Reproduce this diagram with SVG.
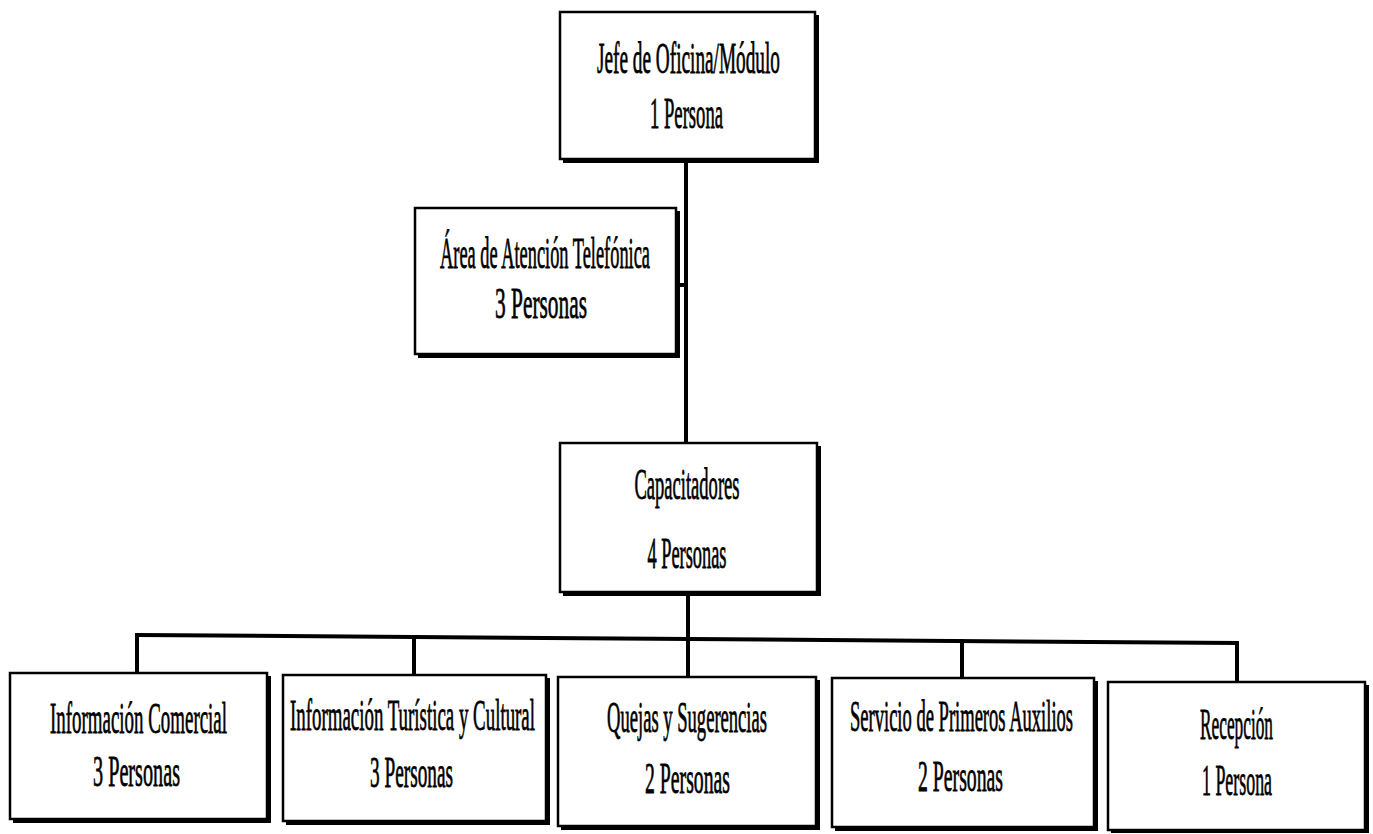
<svg xmlns="http://www.w3.org/2000/svg" width="1373" height="834" viewBox="0 0 1373 834">
<style>
.shadow{fill:#000;}
.box{fill:#fff;stroke:#000;stroke-width:2.5;}
.t{font-family:"Liberation Serif","Times New Roman",serif;font-size:44px;fill:#000;stroke:#000;stroke-width:0.8;text-anchor:middle;}
.c{fill:none;stroke:#000;stroke-width:4;stroke-linecap:square;}
</style>
<rect width="1373" height="834" fill="#fff"/>
<g id="connectors">
<path class="c" d="M686 160 V443"/>
<path class="c" d="M677 285 H686"/>
<path class="c" d="M688 593 V637"/>
<path class="c" d="M137 635 L1237 643"/>
<path class="c" d="M137 635 V673"/>
<path class="c" d="M414 637 V675"/>
<path class="c" d="M688 639 V677"/>
<path class="c" d="M962 641 V678"/>
<path class="c" d="M1237 643 V682"/>
</g>
<g id="jefe">
<rect class="shadow" x="563" y="15" width="256" height="148"/>
<rect class="box" x="560" y="12" width="255" height="147"/>
<text class="t" transform="translate(688.5 73) scale(0.42 1)" textLength="435.7" lengthAdjust="spacingAndGlyphs">Jefe de Oficina/Módulo</text>
<text class="t" transform="translate(686.5 128) scale(0.42 1)" textLength="173.8" lengthAdjust="spacingAndGlyphs">1 Persona</text>
</g>
<g id="telefonica">
<rect class="shadow" x="418" y="211" width="262" height="147"/>
<rect class="box" x="415" y="208" width="261" height="146"/>
<text class="t" transform="translate(545 268) scale(0.42 1)" textLength="500" lengthAdjust="spacingAndGlyphs">Área de Atención Telefónica</text>
<text class="t" transform="translate(541 318) scale(0.42 1)" textLength="219" lengthAdjust="spacingAndGlyphs">3 Personas</text>
</g>
<g id="capacitadores">
<rect class="shadow" x="563" y="446" width="258" height="150"/>
<rect class="box" x="560" y="443" width="257" height="149"/>
<text class="t" transform="translate(687 499) scale(0.42 1)" textLength="250" lengthAdjust="spacingAndGlyphs">Capacitadores</text>
<text class="t" transform="translate(687 568) scale(0.42 1)" textLength="188" lengthAdjust="spacingAndGlyphs">4 Personas</text>
</g>
<g id="comercial">
<rect class="shadow" x="13" y="676" width="258" height="147"/>
<rect class="box" x="10" y="673" width="257" height="146"/>
<text class="t" transform="translate(138.5 733) scale(0.42 1)" textLength="421.4" lengthAdjust="spacingAndGlyphs">Información Comercial</text>
<text class="t" transform="translate(136.5 786) scale(0.42 1)" textLength="207.1" lengthAdjust="spacingAndGlyphs">3 Personas</text>
</g>
<g id="turistica">
<rect class="shadow" x="286" y="678" width="264" height="147"/>
<rect class="box" x="283" y="675" width="263" height="146"/>
<text class="t" transform="translate(412.5 730) scale(0.42 1)" textLength="583.3" lengthAdjust="spacingAndGlyphs">Información Turística y Cultural</text>
<text class="t" transform="translate(411.5 787) scale(0.42 1)" textLength="197.6" lengthAdjust="spacingAndGlyphs">3 Personas</text>
</g>
<g id="quejas">
<rect class="shadow" x="561" y="680" width="259" height="150"/>
<rect class="box" x="558" y="677" width="258" height="149"/>
<text class="t" transform="translate(687 732) scale(0.42 1)" textLength="381" lengthAdjust="spacingAndGlyphs">Quejas y Sugerencias</text>
<text class="t" transform="translate(687.5 793) scale(0.42 1)" textLength="202.4" lengthAdjust="spacingAndGlyphs">2 Personas</text>
</g>
<g id="auxilios">
<rect class="shadow" x="835" y="681" width="263" height="150"/>
<rect class="box" x="832" y="678" width="262" height="149"/>
<text class="t" transform="translate(961.5 731) scale(0.42 1)" textLength="531" lengthAdjust="spacingAndGlyphs">Servicio de Primeros Auxilios</text>
<text class="t" transform="translate(960.5 791) scale(0.42 1)" textLength="202.4" lengthAdjust="spacingAndGlyphs">2 Personas</text>
</g>
<g id="recepcion">
<rect class="shadow" x="1111" y="685" width="258" height="148"/>
<rect class="box" x="1108" y="682" width="257" height="148"/>
<text class="t" transform="translate(1236.5 739) scale(0.42 1)" textLength="173.8" lengthAdjust="spacingAndGlyphs">Recepción</text>
<text class="t" transform="translate(1237 795) scale(0.42 1)" textLength="166.7" lengthAdjust="spacingAndGlyphs">1 Persona</text>
</g>
</svg>
